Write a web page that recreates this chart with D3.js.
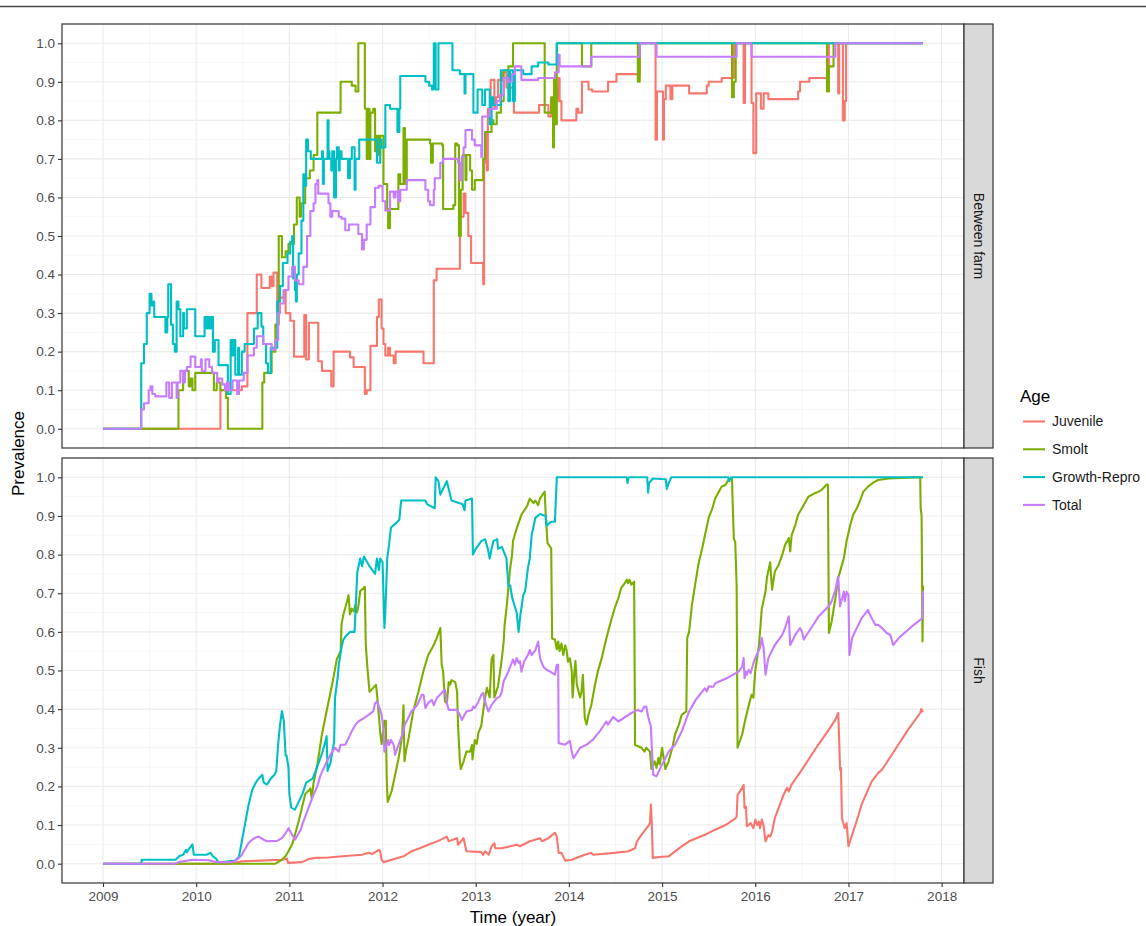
<!DOCTYPE html>
<html>
<head>
<meta charset="utf-8">
<script src="https://cdn.jsdelivr.net/npm/d3@7"></script>
<style>
  body { margin: 0; background: #fff; }
  svg { display: block; font-family: "Liberation Sans", Arial, sans-serif; }
</style>
</head>
<body>
<svg id="chart" width="1146" height="926"></svg>
<script>
// categories and labels
const ages = ["Juvenile", "Smolt", "Growth-Repro", "Total"];
const ageColours = ["#F8766D", "#7CAE00", "#00BFC4", "#C77CFF"];
const facets = ["Between farm", "Fish"];
const yearTicks = [2009, 2010, 2011, 2012, 2013, 2014, 2015, 2016, 2017, 2018];
const prevTicks = [0, 0.1, 0.2, 0.3, 0.4, 0.5, 0.6, 0.7, 0.8, 0.9, 1.0];

// "Between farm" panel, [year, prevalence], step series
const farmJuvenile = [[2009.00,0],[2010.26,0.10],[2010.49,0.11],[2010.55,0.30],[2010.65,0.40],[2010.70,0.365],[2010.79,0.395],[2010.81,0.37],[2010.83,0.405],[2010.87,0.31],[2010.89,0.36],[2010.90,0.34],[2010.94,0.36],[2010.96,0.30],[2011.01,0.28],[2011.05,0.187],[2011.16,0.295],[2011.18,0.18],[2011.21,0.275],[2011.31,0.175],[2011.35,0.15],[2011.45,0.11],[2011.475,0.20],[2011.65,0.185],[2011.69,0.16],[2011.81,0.09],[2011.83,0.10],[2011.87,0.215],[2011.94,0.29],[2011.96,0.335],[2011.99,0.26],[2012.01,0.22],[2012.03,0.19],[2012.06,0.21],[2012.08,0.19],[2012.12,0.17],[2012.14,0.20],[2012.44,0.17],[2012.55,0.385],[2012.58,0.415],[2012.83,0.55],[2012.87,0.61],[2012.89,0.56],[2012.92,0.50],[2012.95,0.43],[2013.08,0.375],[2013.09,0.69],[2013.10,0.765],[2013.12,0.67],[2013.13,0.83],[2013.16,0.905],[2013.20,0.83],[2013.22,0.86],[2013.24,0.905],[2013.29,0.925],[2013.33,0.885],[2013.41,0.82],[2013.68,0.84],[2013.78,0.81],[2013.81,0.855],[2013.83,0.79],[2013.85,0.885],[2013.87,0.85],[2013.89,0.91],[2013.90,0.85],[2013.92,0.80],[2014.08,0.83],[2014.10,0.82],[2014.14,0.90],[2014.21,0.88],[2014.25,0.875],[2014.42,0.90],[2014.51,0.92],[2014.76,1.0],[2014.93,0.75],[2014.945,0.875],[2015.01,0.75],[2015.02,0.855],[2015.04,0.89],[2015.09,0.855],[2015.11,0.89],[2015.29,0.87],[2015.48,0.89],[2015.50,0.90],[2015.64,0.91],[2015.77,1.0],[2015.875,0.845],[2015.89,1.0],[2015.96,0.845],[2015.98,0.715],[2016.01,0.87],[2016.06,0.83],[2016.09,0.87],[2016.14,0.855],[2016.46,0.875],[2016.48,0.90],[2016.58,0.91],[2016.79,1.0],[2016.89,0.87],[2016.90,1.0],[2016.94,0.80],[2016.96,0.85],[2016.975,1.0],[2017.80,1.0]];

const farmSmolt = [[2009.00,0],[2009.81,0.10],[2009.86,0.13],[2009.88,0.15],[2009.92,0.11],[2009.94,0.13],[2009.96,0.10],[2009.99,0.145],[2010.19,0.10],[2010.22,0.12],[2010.26,0.10],[2010.32,0.08],[2010.34,0],[2010.71,0.12],[2010.73,0.145],[2010.81,0.20],[2010.85,0.27],[2010.886,0.50],[2010.92,0.445],[2010.96,0.46],[2010.99,0.48],[2011.05,0.53],[2011.08,0.60],[2011.11,0.55],[2011.125,0.585],[2011.17,0.65],[2011.22,0.67],[2011.26,0.71],[2011.30,0.82],[2011.55,0.90],[2011.67,0.89],[2011.71,0.875],[2011.74,1.0],[2011.81,0.83],[2011.83,0.70],[2011.84,0.83],[2011.86,0.70],[2011.87,0.82],[2011.90,0.83],[2011.92,0.72],[2011.94,0.76],[2011.96,0.71],[2011.975,0.76],[2012.01,0.635],[2012.05,0.57],[2012.06,0.52],[2012.08,0.57],[2012.17,0.66],[2012.19,0.635],[2012.225,0.78],[2012.24,0.635],[2012.26,0.75],[2012.51,0.74],[2012.52,0.69],[2012.54,0.74],[2012.64,0.735],[2012.65,0.57],[2012.76,0.58],[2012.78,0.74],[2012.80,0.735],[2012.82,0.50],[2012.84,0.62],[2012.86,0.71],[2012.89,0.645],[2012.90,0.71],[2012.94,0.67],[2012.96,0.62],[2012.99,0.645],[2013.08,0.70],[2013.10,0.77],[2013.17,0.80],[2013.19,0.79],[2013.225,0.82],[2013.27,0.85],[2013.30,0.93],[2013.35,0.94],[2013.40,1.0],[2013.74,0.82],[2013.81,0.86],[2013.83,0.73],[2013.84,0.91],[2013.86,0.79],[2013.87,1.0],[2014.14,0.94],[2014.24,1.0],[2014.74,0.90],[2014.76,1.0],[2015.75,0.86],[2015.77,0.90],[2015.79,1.0],[2016.77,0.875],[2016.79,0.94],[2016.84,1.0],[2017.80,1.0]];

const farmGrowth = [[2009.00,0],[2009.41,0.17],[2009.44,0.22],[2009.47,0.30],[2009.50,0.35],[2009.52,0.32],[2009.54,0.33],[2009.55,0.29],[2009.67,0.25],[2009.69,0.29],[2009.70,0.375],[2009.73,0.27],[2009.75,0.22],[2009.77,0.20],[2009.79,0.33],[2009.81,0.31],[2009.83,0.24],[2009.86,0.30],[2009.87,0.26],[2009.90,0.31],[2009.99,0.24],[2010.09,0.29],[2010.11,0.26],[2010.12,0.29],[2010.14,0.26],[2010.16,0.29],[2010.18,0.20],[2010.20,0.23],[2010.24,0.165],[2010.34,0.09],[2010.37,0.23],[2010.39,0.19],[2010.40,0.23],[2010.42,0.14],[2010.45,0.21],[2010.46,0.14],[2010.49,0.20],[2010.52,0.22],[2010.62,0.26],[2010.66,0.30],[2010.70,0.265],[2010.72,0.22],[2010.75,0.17],[2010.77,0.145],[2010.80,0.21],[2010.87,0.33],[2010.90,0.37],[2010.93,0.43],[2010.98,0.455],[2011.01,0.485],[2011.03,0.50],[2011.04,0.39],[2011.06,0.36],[2011.07,0.33],[2011.08,0.40],[2011.10,0.455],[2011.13,0.54],[2011.15,0.66],[2011.17,0.63],[2011.18,0.75],[2011.20,0.72],[2011.23,0.70],[2011.35,0.72],[2011.36,0.635],[2011.37,0.70],[2011.41,0.80],[2011.42,0.72],[2011.43,0.70],[2011.45,0.67],[2011.46,0.72],[2011.48,0.60],[2011.50,0.70],[2011.51,0.73],[2011.53,0.67],[2011.54,0.72],[2011.56,0.70],[2011.63,0.65],[2011.65,0.70],[2011.67,0.73],[2011.70,0.62],[2011.71,0.70],[2011.75,0.75],[2011.92,0.75],[2011.94,0.69],[2011.975,0.75],[2011.99,0.73],[2012.03,0.84],[2012.08,0.83],[2012.16,0.77],[2012.18,0.83],[2012.19,0.915],[2012.46,0.90],[2012.50,0.89],[2012.53,0.88],[2012.55,1.0],[2012.57,0.88],[2012.60,1.0],[2012.75,0.93],[2012.83,0.92],[2012.88,0.87],[2012.89,0.92],[2012.975,0.82],[2013.02,0.88],[2013.07,0.84],[2013.10,0.88],[2013.15,0.79],[2013.17,0.86],[2013.19,0.84],[2013.27,0.93],[2013.35,0.85],[2013.37,0.93],[2013.40,0.85],[2013.42,0.93],[2013.51,0.92],[2013.60,0.94],[2013.67,0.95],[2013.78,0.945],[2013.87,1.0],[2017.80,1.0]];

const farmTotal = [[2009.00,0],[2009.41,0.05],[2009.44,0.066],[2009.49,0.10],[2009.51,0.11],[2009.53,0.09],[2009.56,0.084],[2009.68,0.12],[2009.71,0.08],[2009.74,0.12],[2009.79,0.08],[2009.80,0.12],[2009.83,0.15],[2009.86,0.12],[2009.88,0.15],[2009.90,0.16],[2009.94,0.187],[2009.99,0.16],[2010.05,0.18],[2010.06,0.15],[2010.10,0.18],[2010.14,0.16],[2010.17,0.145],[2010.225,0.12],[2010.24,0.13],[2010.28,0.115],[2010.31,0.10],[2010.33,0.12],[2010.35,0.10],[2010.39,0.125],[2010.44,0.09],[2010.46,0.125],[2010.51,0.145],[2010.55,0.19],[2010.62,0.21],[2010.65,0.24],[2010.72,0.22],[2010.81,0.205],[2010.85,0.23],[2010.88,0.30],[2010.90,0.325],[2010.94,0.36],[2010.99,0.395],[2011.03,0.42],[2011.06,0.385],[2011.10,0.375],[2011.15,0.42],[2011.19,0.50],[2011.225,0.565],[2011.26,0.585],[2011.28,0.635],[2011.30,0.645],[2011.31,0.61],[2011.42,0.585],[2011.44,0.55],[2011.46,0.565],[2011.53,0.55],[2011.56,0.545],[2011.60,0.515],[2011.64,0.53],[2011.74,0.505],[2011.78,0.465],[2011.80,0.49],[2011.83,0.53],[2011.87,0.575],[2011.92,0.625],[2011.96,0.63],[2012.00,0.59],[2012.03,0.566],[2012.08,0.615],[2012.12,0.60],[2012.14,0.615],[2012.17,0.59],[2012.19,0.62],[2012.26,0.645],[2012.46,0.62],[2012.49,0.59],[2012.51,0.58],[2012.55,0.62],[2012.56,0.65],[2012.62,0.69],[2012.65,0.70],[2012.81,0.69],[2012.83,0.645],[2012.85,0.705],[2012.87,0.73],[2012.89,0.775],[2012.96,0.75],[2012.99,0.735],[2013.06,0.705],[2013.07,0.81],[2013.15,0.83],[2013.225,0.85],[2013.26,0.865],[2013.30,0.91],[2013.35,0.90],[2013.39,0.92],[2013.42,0.94],[2013.49,0.905],[2013.67,0.91],[2013.85,0.925],[2013.89,0.97],[2013.90,0.94],[2014.24,0.965],[2014.76,1.0],[2014.94,0.965],[2015.80,1.0],[2015.96,0.965],[2016.86,1.0],[2017.80,1.0]];

// "Fish" panel, [year, prevalence]
const fishJuvenile = [[2009.00,0],[2010.35,0],[2010.49,0.006],[2010.92,0.01],[2010.975,0.013],[2010.985,0.002],[2011.135,0.004],[2011.21,0.012],[2011.28,0.015],[2011.42,0.016],[2011.60,0.02],[2011.78,0.023],[2011.85,0.028],[2011.89,0.025],[2011.96,0.036],[2011.975,0.032],[2011.99,0.01],[2012.01,0.004],[2012.10,0.01],[2012.225,0.019],[2012.31,0.032],[2012.40,0.04],[2012.49,0.049],[2012.60,0.059],[2012.69,0.07],[2012.71,0.058],[2012.80,0.066],[2012.81,0.049],[2012.87,0.066],[2012.90,0.032],[2013.06,0.03],[2013.08,0.023],[2013.10,0.032],[2013.14,0.023],[2013.17,0.045],[2013.20,0.053],[2013.21,0.04],[2013.28,0.04],[2013.44,0.049],[2013.475,0.045],[2013.58,0.058],[2013.69,0.066],[2013.71,0.058],[2013.78,0.066],[2013.85,0.08],[2013.87,0.07],[2013.88,0.049],[2013.89,0.028],[2013.92,0.028],[2013.96,0.008],[2014.03,0.01],[2014.17,0.023],[2014.24,0.028],[2014.26,0.023],[2014.49,0.028],[2014.64,0.032],[2014.71,0.04],[2014.73,0.058],[2014.78,0.075],[2014.85,0.097],[2014.87,0.105],[2014.88,0.153],[2014.89,0.10],[2014.90,0.015],[2015.00,0.018],[2015.07,0.019],[2015.14,0.032],[2015.21,0.045],[2015.29,0.058],[2015.46,0.075],[2015.57,0.088],[2015.68,0.10],[2015.79,0.118],[2015.80,0.122],[2015.81,0.178],[2015.86,0.196],[2015.875,0.204],[2015.885,0.144],[2015.90,0.148],[2015.91,0.097],[2015.95,0.105],[2015.98,0.092],[2016.00,0.114],[2016.02,0.10],[2016.04,0.109],[2016.05,0.092],[2016.07,0.114],[2016.09,0.097],[2016.11,0.058],[2016.14,0.074],[2016.16,0.07],[2016.18,0.083],[2016.21,0.118],[2016.25,0.144],[2016.29,0.17],[2016.32,0.187],[2016.34,0.196],[2016.36,0.187],[2016.39,0.205],[2016.50,0.243],[2016.64,0.295],[2016.79,0.347],[2016.86,0.373],[2016.89,0.39],[2016.90,0.325],[2016.91,0.243],[2016.92,0.248],[2016.93,0.118],[2016.96,0.092],[2016.98,0.105],[2017.00,0.045],[2017.04,0.075],[2017.11,0.127],[2017.14,0.153],[2017.25,0.213],[2017.32,0.235],[2017.36,0.243],[2017.50,0.295],[2017.64,0.347],[2017.77,0.39],[2017.78,0.40],[2017.80,0.392]];

const fishSmolt = [[2009.00,0],[2010.85,0],[2010.92,0.01],[2010.96,0.02],[2010.99,0.032],[2011.03,0.05],[2011.06,0.075],[2011.10,0.11],[2011.135,0.145],[2011.17,0.18],[2011.21,0.19],[2011.225,0.195],[2011.24,0.17],[2011.26,0.21],[2011.30,0.256],[2011.35,0.335],[2011.40,0.395],[2011.46,0.465],[2011.51,0.53],[2011.55,0.55],[2011.56,0.62],[2011.58,0.645],[2011.62,0.68],[2011.635,0.695],[2011.65,0.645],[2011.67,0.66],[2011.69,0.653],[2011.71,0.67],[2011.725,0.65],[2011.74,0.665],[2011.76,0.705],[2011.81,0.717],[2011.82,0.566],[2011.84,0.50],[2011.86,0.445],[2011.90,0.455],[2011.93,0.463],[2011.94,0.44],[2011.96,0.385],[2011.975,0.34],[2011.99,0.31],[2012.02,0.37],[2012.035,0.37],[2012.045,0.22],[2012.055,0.16],[2012.10,0.19],[2012.135,0.23],[2012.17,0.27],[2012.21,0.33],[2012.225,0.41],[2012.235,0.265],[2012.25,0.29],[2012.28,0.325],[2012.33,0.395],[2012.385,0.445],[2012.44,0.50],[2012.49,0.54],[2012.55,0.566],[2012.58,0.583],[2012.62,0.61],[2012.635,0.515],[2012.65,0.497],[2012.67,0.42],[2012.69,0.415],[2012.71,0.47],[2012.725,0.463],[2012.74,0.475],[2012.78,0.47],[2012.80,0.445],[2012.81,0.36],[2012.83,0.265],[2012.84,0.245],[2012.87,0.265],[2012.90,0.29],[2012.94,0.29],[2012.96,0.307],[2012.965,0.27],[2012.99,0.32],[2013.01,0.31],[2013.03,0.34],[2013.06,0.357],[2013.08,0.395],[2013.10,0.43],[2013.12,0.455],[2013.15,0.43],[2013.17,0.53],[2013.19,0.54],[2013.20,0.43],[2013.24,0.46],[2013.28,0.53],[2013.30,0.575],[2013.31,0.618],[2013.33,0.66],[2013.35,0.713],[2013.37,0.765],[2013.39,0.80],[2013.40,0.835],[2013.44,0.868],[2013.49,0.903],[2013.55,0.925],[2013.58,0.945],[2013.62,0.933],[2013.64,0.94],[2013.67,0.928],[2013.69,0.945],[2013.725,0.958],[2013.74,0.963],[2013.75,0.91],[2013.77,0.83],[2013.81,0.816],[2013.82,0.583],[2013.85,0.58],[2013.87,0.555],[2013.885,0.575],[2013.90,0.55],[2013.92,0.57],[2013.94,0.54],[2013.96,0.565],[2013.975,0.553],[2013.99,0.523],[2014.01,0.532],[2014.03,0.50],[2014.04,0.43],[2014.06,0.50],[2014.07,0.525],[2014.085,0.463],[2014.12,0.43],[2014.135,0.445],[2014.15,0.489],[2014.17,0.377],[2014.19,0.36],[2014.21,0.385],[2014.24,0.41],[2014.28,0.463],[2014.31,0.497],[2014.35,0.53],[2014.385,0.566],[2014.42,0.60],[2014.46,0.635],[2014.49,0.66],[2014.53,0.687],[2014.56,0.713],[2014.60,0.726],[2014.62,0.735],[2014.635,0.726],[2014.65,0.735],[2014.67,0.722],[2014.70,0.73],[2014.71,0.307],[2014.78,0.30],[2014.81,0.29],[2014.83,0.30],[2014.87,0.29],[2014.885,0.245],[2014.92,0.265],[2014.94,0.248],[2014.96,0.274],[2014.975,0.257],[2015.00,0.30],[2015.035,0.245],[2015.07,0.265],[2015.11,0.30],[2015.14,0.335],[2015.18,0.36],[2015.21,0.385],[2015.26,0.394],[2015.27,0.585],[2015.29,0.60],[2015.32,0.67],[2015.36,0.73],[2015.39,0.775],[2015.43,0.816],[2015.46,0.85],[2015.50,0.895],[2015.54,0.92],[2015.57,0.945],[2015.61,0.963],[2015.64,0.976],[2015.68,0.98],[2015.71,0.993],[2015.75,0.998],[2015.757,0.937],[2015.77,0.84],[2015.785,0.833],[2015.80,0.72],[2015.81,0.30],[2015.86,0.335],[2015.89,0.37],[2015.93,0.41],[2015.96,0.437],[2015.98,0.43],[2016.00,0.50],[2016.04,0.566],[2016.07,0.66],[2016.11,0.705],[2016.125,0.74],[2016.16,0.78],[2016.18,0.709],[2016.20,0.74],[2016.21,0.756],[2016.25,0.773],[2016.29,0.80],[2016.32,0.825],[2016.36,0.843],[2016.375,0.808],[2016.39,0.85],[2016.43,0.877],[2016.46,0.903],[2016.50,0.92],[2016.54,0.937],[2016.57,0.95],[2016.61,0.955],[2016.64,0.959],[2016.68,0.963],[2016.71,0.967],[2016.77,0.982],[2016.78,0.98],[2016.79,0.597],[2016.82,0.627],[2016.86,0.687],[2016.89,0.74],[2016.91,0.756],[2016.95,0.79],[2016.98,0.835],[2017.02,0.877],[2017.05,0.903],[2017.09,0.92],[2017.125,0.94],[2017.16,0.963],[2017.21,0.976],[2017.27,0.987],[2017.32,0.993],[2017.43,0.997],[2017.77,1.0],[2017.775,0.92],[2017.785,0.90],[2017.795,0.575],[2017.80,0.72]];

const fishGrowth = [[2009.00,0],[2009.41,0],[2009.415,0.01],[2009.78,0.01],[2009.82,0.02],[2009.86,0.023],[2009.89,0.036],[2009.90,0.03],[2009.93,0.04],[2009.96,0.05],[2009.975,0.023],[2010.11,0.023],[2010.155,0.028],[2010.18,0.019],[2010.21,0.014],[2010.24,0.004],[2010.28,0.004],[2010.42,0.008],[2010.46,0.019],[2010.49,0.058],[2010.53,0.11],[2010.56,0.15],[2010.60,0.19],[2010.64,0.21],[2010.67,0.22],[2010.71,0.23],[2010.725,0.21],[2010.76,0.205],[2010.80,0.22],[2010.84,0.23],[2010.86,0.24],[2010.88,0.31],[2010.90,0.36],[2010.92,0.395],[2010.94,0.37],[2010.96,0.28],[2010.97,0.28],[2010.99,0.25],[2011.00,0.18],[2011.02,0.145],[2011.06,0.14],[2011.10,0.16],[2011.14,0.18],[2011.18,0.21],[2011.25,0.22],[2011.29,0.245],[2011.35,0.285],[2011.38,0.31],[2011.40,0.33],[2011.41,0.24],[2011.44,0.26],[2011.48,0.315],[2011.49,0.43],[2011.52,0.485],[2011.53,0.515],[2011.56,0.56],[2011.58,0.58],[2011.61,0.59],[2011.65,0.60],[2011.70,0.60],[2011.72,0.71],[2011.73,0.755],[2011.76,0.79],[2011.78,0.77],[2011.80,0.795],[2011.86,0.77],[2011.92,0.75],[2011.94,0.79],[2011.96,0.76],[2011.975,0.79],[2012.00,0.78],[2012.02,0.61],[2012.03,0.65],[2012.05,0.79],[2012.07,0.825],[2012.09,0.87],[2012.14,0.88],[2012.18,0.89],[2012.20,0.94],[2012.46,0.94],[2012.48,0.93],[2012.56,0.92],[2012.57,1.0],[2012.60,0.99],[2012.62,0.955],[2012.65,0.97],[2012.69,0.99],[2012.74,0.94],[2012.86,0.93],[2012.88,0.915],[2012.89,0.94],[2012.96,0.945],[2012.97,0.80],[2013.00,0.815],[2013.06,0.835],[2013.10,0.84],[2013.13,0.815],[2013.15,0.79],[2013.17,0.815],[2013.19,0.835],[2013.23,0.84],[2013.24,0.815],[2013.28,0.82],[2013.33,0.79],[2013.35,0.72],[2013.37,0.72],[2013.39,0.69],[2013.42,0.665],[2013.44,0.65],[2013.46,0.60],[2013.48,0.645],[2013.51,0.695],[2013.53,0.705],[2013.56,0.765],[2013.58,0.79],[2013.60,0.85],[2013.64,0.895],[2013.69,0.905],[2013.75,0.90],[2013.76,0.875],[2013.81,0.885],[2013.85,0.885],[2013.87,1.0],[2014.62,1.0],[2014.63,0.985],[2014.64,1.0],[2014.84,1.0],[2014.85,0.96],[2014.86,0.985],[2014.90,0.997],[2015.04,0.995],[2015.05,0.97],[2015.07,0.985],[2015.10,1.0],[2015.71,1.0],[2015.72,0.99],[2015.74,1.0],[2017.80,1.0]];

const fishTotal = [[2009.00,0],[2009.78,0],[2009.81,0.004],[2009.96,0.01],[2010.135,0.009],[2010.21,0.004],[2010.39,0.004],[2010.42,0.008],[2010.46,0.015],[2010.49,0.023],[2010.53,0.04],[2010.56,0.053],[2010.60,0.062],[2010.64,0.068],[2010.67,0.07],[2010.725,0.062],[2010.76,0.058],[2010.87,0.059],[2010.92,0.066],[2010.96,0.079],[2010.99,0.092],[2011.03,0.075],[2011.06,0.062],[2011.12,0.087],[2011.15,0.109],[2011.19,0.135],[2011.225,0.157],[2011.26,0.179],[2011.30,0.2],[2011.33,0.226],[2011.385,0.256],[2011.44,0.282],[2011.49,0.3],[2011.53,0.29],[2011.55,0.308],[2011.60,0.308],[2011.635,0.325],[2011.67,0.343],[2011.71,0.36],[2011.74,0.368],[2011.80,0.377],[2011.85,0.385],[2011.90,0.394],[2011.92,0.415],[2011.94,0.42],[2011.975,0.398],[2011.99,0.385],[2012.01,0.35],[2012.02,0.29],[2012.06,0.32],[2012.07,0.307],[2012.09,0.32],[2012.12,0.307],[2012.135,0.282],[2012.17,0.307],[2012.21,0.333],[2012.24,0.36],[2012.31,0.394],[2012.37,0.41],[2012.42,0.437],[2012.44,0.437],[2012.46,0.403],[2012.49,0.416],[2012.53,0.424],[2012.55,0.41],[2012.58,0.428],[2012.65,0.446],[2012.67,0.45],[2012.69,0.416],[2012.71,0.398],[2012.80,0.398],[2012.83,0.385],[2012.85,0.372],[2012.90,0.394],[2012.96,0.398],[2012.975,0.407],[2012.99,0.403],[2013.03,0.42],[2013.06,0.437],[2013.08,0.442],[2013.10,0.42],[2013.135,0.394],[2013.17,0.411],[2013.225,0.428],[2013.26,0.433],[2013.28,0.446],[2013.30,0.472],[2013.35,0.497],[2013.40,0.528],[2013.42,0.515],[2013.44,0.532],[2013.46,0.52],[2013.475,0.524],[2013.49,0.497],[2013.52,0.524],[2013.56,0.54],[2013.58,0.553],[2013.60,0.54],[2013.64,0.553],[2013.67,0.575],[2013.69,0.532],[2013.725,0.51],[2013.76,0.502],[2013.80,0.497],[2013.85,0.489],[2013.87,0.515],[2013.885,0.515],[2013.89,0.312],[2013.96,0.308],[2014.01,0.318],[2014.03,0.29],[2014.05,0.273],[2014.12,0.30],[2014.19,0.308],[2014.26,0.321],[2014.30,0.334],[2014.33,0.342],[2014.40,0.368],[2014.42,0.36],[2014.475,0.38],[2014.53,0.368],[2014.67,0.39],[2014.74,0.398],[2014.78,0.394],[2014.81,0.407],[2014.83,0.407],[2014.85,0.381],[2014.88,0.355],[2014.89,0.30],[2014.905,0.23],[2014.94,0.226],[2014.99,0.252],[2015.035,0.273],[2015.07,0.29],[2015.14,0.308],[2015.21,0.342],[2015.29,0.394],[2015.36,0.424],[2015.46,0.454],[2015.48,0.446],[2015.50,0.459],[2015.55,0.458],[2015.57,0.467],[2015.71,0.482],[2015.82,0.497],[2015.86,0.51],[2015.875,0.532],[2015.885,0.48],[2015.90,0.497],[2015.91,0.489],[2015.93,0.502],[2015.95,0.493],[2015.98,0.519],[2016.00,0.532],[2016.05,0.558],[2016.07,0.584],[2016.09,0.558],[2016.11,0.489],[2016.14,0.532],[2016.21,0.566],[2016.29,0.592],[2016.32,0.61],[2016.36,0.64],[2016.375,0.566],[2016.43,0.592],[2016.48,0.61],[2016.50,0.601],[2016.52,0.58],[2016.54,0.588],[2016.61,0.614],[2016.68,0.64],[2016.75,0.657],[2016.80,0.67],[2016.82,0.679],[2016.86,0.709],[2016.89,0.743],[2016.91,0.666],[2016.95,0.704],[2016.96,0.679],[2016.98,0.704],[2017.00,0.696],[2017.01,0.54],[2017.04,0.584],[2017.07,0.60],[2017.14,0.635],[2017.21,0.657],[2017.23,0.644],[2017.29,0.618],[2017.32,0.618],[2017.36,0.61],[2017.41,0.597],[2017.45,0.592],[2017.48,0.566],[2017.54,0.584],[2017.68,0.614],[2017.75,0.627],[2017.79,0.635],[2017.80,0.705]];

const farmSeries = [farmJuvenile, farmSmolt, farmGrowth, farmTotal];
const fishSeries = [fishJuvenile, fishSmolt, fishGrowth, fishTotal];

// frame
const svg = d3.select("#chart");
const plotLeft = 62, plotRight = 964, stripWidth = 29;
const tickFont = 13.5;
const panels = [
  { name: facets[0], top: 24, bottom: 448, series: farmSeries, curve: d3.curveStepAfter },
  { name: facets[1], top: 458, bottom: 883, series: fishSeries, curve: d3.curveLinear }
];

svg.append("line")
  .attr("x1", 0).attr("x2", 1146).attr("y1", 6.5).attr("y2", 6.5)
  .attr("stroke", "#444").attr("stroke-width", 1.5);

// ggplot pads the data range by 5% each side
const x = d3.scaleLinear().domain([2008.56, 2018.24]).range([plotLeft, plotRight]);
const minorX = d3.range(2008.5, 2018.5, 1).filter(d => d > 2008.56);
const minorY = d3.range(-0.05, 1.06, 0.1).map(d => +d.toFixed(2)).filter(d => d > -0.05);

panels.forEach((p, pi) => {
  const y = d3.scaleLinear().domain([-0.05, 1.05]).range([p.bottom, p.top]);
  const g = svg.append("g");

  // grid
  g.selectAll(".minx").data(minorX).join("line")
    .attr("x1", d => x(d)).attr("x2", d => x(d))
    .attr("y1", p.top).attr("y2", p.bottom)
    .attr("stroke", "#F2F2F2").attr("stroke-width", 0.6);
  g.selectAll(".miny").data(minorY).join("line")
    .attr("x1", plotLeft).attr("x2", plotRight)
    .attr("y1", d => y(d)).attr("y2", d => y(d))
    .attr("stroke", "#F2F2F2").attr("stroke-width", 0.6);
  g.selectAll(".majx").data(yearTicks).join("line")
    .attr("x1", d => x(d)).attr("x2", d => x(d))
    .attr("y1", p.top).attr("y2", p.bottom)
    .attr("stroke", "#EBEBEB").attr("stroke-width", 1.1);
  g.selectAll(".majy").data(prevTicks).join("line")
    .attr("x1", plotLeft).attr("x2", plotRight)
    .attr("y1", d => y(d)).attr("y2", d => y(d))
    .attr("stroke", "#EBEBEB").attr("stroke-width", 1.1);

  // lines, in factor order so Total sits on top
  const line = d3.line().x(d => x(d[0])).y(d => y(d[1])).curve(p.curve);
  p.series.forEach((s, i) => {
    g.append("path")
      .datum(s)
      .attr("d", line)
      .attr("fill", "none")
      .attr("stroke", ageColours[i])
      .attr("stroke-width", 2.1)
      .attr("stroke-linejoin", "round");
  });

  // panel border
  g.append("rect")
    .attr("x", plotLeft).attr("y", p.top)
    .attr("width", plotRight - plotLeft).attr("height", p.bottom - p.top)
    .attr("fill", "none").attr("stroke", "#333").attr("stroke-width", 1.2);

  // strip
  g.append("rect")
    .attr("x", plotRight).attr("y", p.top)
    .attr("width", stripWidth).attr("height", p.bottom - p.top)
    .attr("fill", "#D9D9D9").attr("stroke", "#333").attr("stroke-width", 1.2);
  g.append("text")
    .attr("transform", `translate(${plotRight + stripWidth / 2},${(p.top + p.bottom) / 2}) rotate(90)`)
    .attr("text-anchor", "middle")
    .attr("dy", "0.35em")
    .attr("font-size", 14)
    .attr("fill", "#1A1A1A")
    .text(p.name);

  // y axis
  const yAxis = g.append("g")
    .attr("transform", `translate(${plotLeft},0)`)
    .call(d3.axisLeft(y).tickValues(prevTicks).tickFormat(d3.format(".1f")).tickSize(4).tickPadding(3));
  yAxis.select(".domain").remove();
  yAxis.selectAll(".tick line").attr("stroke", "#333").attr("stroke-width", 1.1);
  yAxis.selectAll("text").attr("fill", "#4D4D4D").attr("font-size", tickFont)
    .style("font-family", "Liberation Sans, Arial, sans-serif");

  if (pi === panels.length - 1) {
    const xAxis = g.append("g")
      .attr("transform", `translate(0,${p.bottom})`)
      .call(d3.axisBottom(x).tickValues(yearTicks).tickFormat(d3.format("d")).tickSize(4).tickPadding(4));
    xAxis.select(".domain").remove();
    xAxis.selectAll(".tick line").attr("stroke", "#333").attr("stroke-width", 1.1);
    xAxis.selectAll("text").attr("fill", "#4D4D4D").attr("font-size", tickFont)
      .style("font-family", "Liberation Sans, Arial, sans-serif");
  }
});

// axis titles
svg.append("text")
  .attr("x", (plotLeft + plotRight) / 2).attr("y", 923)
  .attr("text-anchor", "middle").attr("font-size", 17).attr("fill", "#000")
  .text("Time (year)");
svg.append("text")
  .attr("transform", `translate(24,${(24 + 883) / 2}) rotate(-90)`)
  .attr("text-anchor", "middle").attr("font-size", 17).attr("fill", "#000")
  .text("Prevalence");

// legend
const legend = svg.append("g").attr("transform", "translate(1020,0)");
legend.append("text").attr("x", 0).attr("y", 402).attr("font-size", 17).attr("fill", "#000").text("Age");
ages.forEach((a, i) => {
  const ly = 421.5 + i * 27.8;
  legend.append("line")
    .attr("x1", 3).attr("x2", 25).attr("y1", ly).attr("y2", ly)
    .attr("stroke", ageColours[i]).attr("stroke-width", 2.1);
  legend.append("text")
    .attr("x", 32).attr("y", ly).attr("dy", "0.35em")
    .attr("font-size", 14).attr("fill", "#1A1A1A")
    .text(a);
});
</script>
</body>
</html>
